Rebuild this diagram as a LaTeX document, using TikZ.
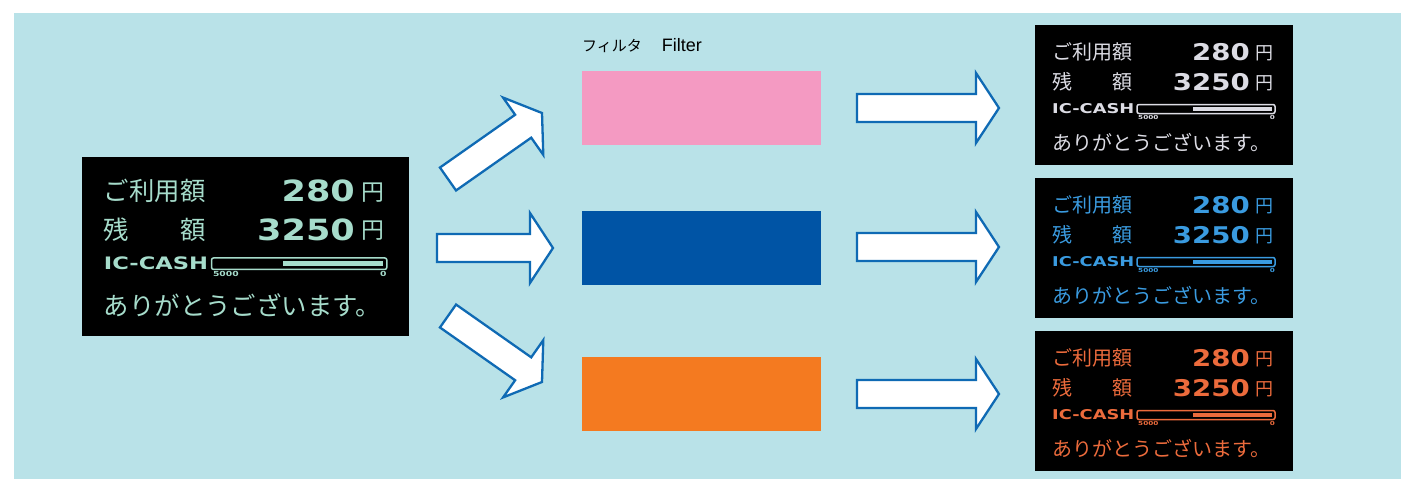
\documentclass[tikz,border=0pt]{standalone}
\usepackage{fontspec}
\usetikzlibrary{calc}
\setmainfont{Liberation Sans}
\newfontfamily\cjk{Noto Sans CJK JP}
\newfontfamily\dispfont[FakeStretch=1.32]{DejaVu Sans}
\newfontfamily\numfont[FakeStretch=1.2]{DejaVu Sans}
\definecolor{bgcol}{HTML}{B9E2E8}
\definecolor{arrowblue}{HTML}{0F6AB4}
\definecolor{pinkf}{HTML}{F49AC2}
\definecolor{bluef}{HTML}{0054A5}
\definecolor{orangef}{HTML}{F47A20}
\definecolor{mintc}{HTML}{A6DCCB}
\definecolor{greyc}{HTML}{DCDCE4}
\definecolor{bluec}{HTML}{3A9BE0}
\definecolor{orangec}{HTML}{EC6B3C}
\tikzset{
  oledbox/.style={fill=black, draw=none, inner sep=0pt},
  filt/.style={draw=none, inner sep=0pt, minimum width=239pt, minimum height=74pt, anchor=north west},
  jp/.style={font=\cjk\fontsize{20}{22}\selectfont, inner sep=0pt, transform shape},
  yen/.style={font=\cjk\fontsize{18}{20}\selectfont, inner sep=0pt, transform shape},
  num/.style={font=\numfont\bfseries\fontsize{23}{25}\selectfont, inner sep=0pt, transform shape},
  ic/.style={font=\dispfont\bfseries\fontsize{13.5}{15}\selectfont, inner sep=0pt, transform shape},
  tinytxt/.style={font=\dispfont\bfseries\fontsize{5.5}{6}\selectfont, inner sep=0pt, transform shape},
  arrowstyle/.style={draw=arrowblue, fill=white, line width=2.3pt},
}
\newcommand\drawoled[7]{% name, x, y, scale, colour, width, height
  \node[oledbox, minimum width=#6pt, minimum height=#7pt, anchor=north west] (#1) at (#2,#3) {};
  \begin{scope}[shift={(#2,#3)}, scale=#4, every node/.append style={text=#5}]
    \node[jp, anchor=west] (#1-a) at (17,27) {ご利用額};
    \node[num, anchor=east] (#1-b) at (215,27) {280};
    \node[yen, anchor=west] (#1-c) at (220,28) {円};
    \node[jp, anchor=west] (#1-d) at (17,57) {残};
    \node[jp, anchor=east] (#1-e) at (98,57) {額};
    \node[num, anchor=east] (#1-f) at (215,57) {3250};
    \node[yen, anchor=west] (#1-g) at (220,58) {円};
    \node[ic, anchor=west] (#1-h) at (17,84) {IC-CASH};
    \draw[color=#5, line width=1.5pt, rounded corners=2pt] (102,79.5) rectangle (240,88.5);
    \fill[color=#5] (158,82) rectangle (237,86);
    \node[tinytxt, anchor=north west] (#1-i) at (103,90) {5000};
    \node[tinytxt, anchor=north east] (#1-j) at (240,90) {0};
    \node[jp, anchor=west] (#1-k) at (17,117) {ありがとうございます。};
  \end{scope}}
\newcommand\blockarr[2]{%
  \path ($(#2)!23pt!(#1)$) coordinate (ba-base);
  \draw[arrowstyle] ($(#1)!14pt!90:(#2)$) -- ($(ba-base)!14pt!-90:(#1)$) -- ($(ba-base)!35pt!-90:(#1)$) -- (#2) -- ($(ba-base)!35pt!90:(#1)$) -- ($(ba-base)!14pt!90:(#1)$) -- ($(#1)!14pt!-90:(#2)$) -- cycle;}
\begin{document}
\begin{tikzpicture}[x=1pt, y=-1pt]
  \useasboundingbox (0,0) rectangle (1401,479);
  \fill[bgcol] (14,13) rectangle (1401,479);
  % source display
  \drawoled{src}{82}{157}{1.27}{mintc}{327}{179}
  % filters
  \node[anchor=west, inner sep=0pt] (lbl) at (582,46) {{\cjk\fontsize{15}{17}\selectfont フィルタ}\hspace{20pt}{\fontsize{18}{20}\selectfont Filter}};
  \node[filt, fill=pinkf] (f1) at (582,71) {};
  \node[filt, fill=bluef] (f2) at (582,211) {};
  \node[filt, fill=orangef] (f3) at (582,357) {};
  % result displays
  \drawoled{r1}{1035}{25}{1}{greyc}{258}{140}
  \drawoled{r2}{1035}{178}{1}{bluec}{258}{140}
  \drawoled{r3}{1035}{331}{1}{orangec}{258}{140}
  % arrow end points
  \coordinate (a1t) at (448,179); \coordinate (a1h) at (542,113);
  \coordinate (a2t) at (437,248); \coordinate (a2h) at (553,248);
  \coordinate (a3t) at (448,316); \coordinate (a3h) at (542,382);
  \coordinate (b1t) at (857,108); \coordinate (b1h) at (999,108);
  \coordinate (b2t) at (857,247); \coordinate (b2h) at (999,247);
  \coordinate (b3t) at (857,394); \coordinate (b3h) at (999,394);
  \blockarr{a1t}{a1h}
  \blockarr{a2t}{a2h}
  \blockarr{a3t}{a3h}
  \blockarr{b1t}{b1h}
  \blockarr{b2t}{b2h}
  \blockarr{b3t}{b3h}
\end{tikzpicture}
\end{document}
